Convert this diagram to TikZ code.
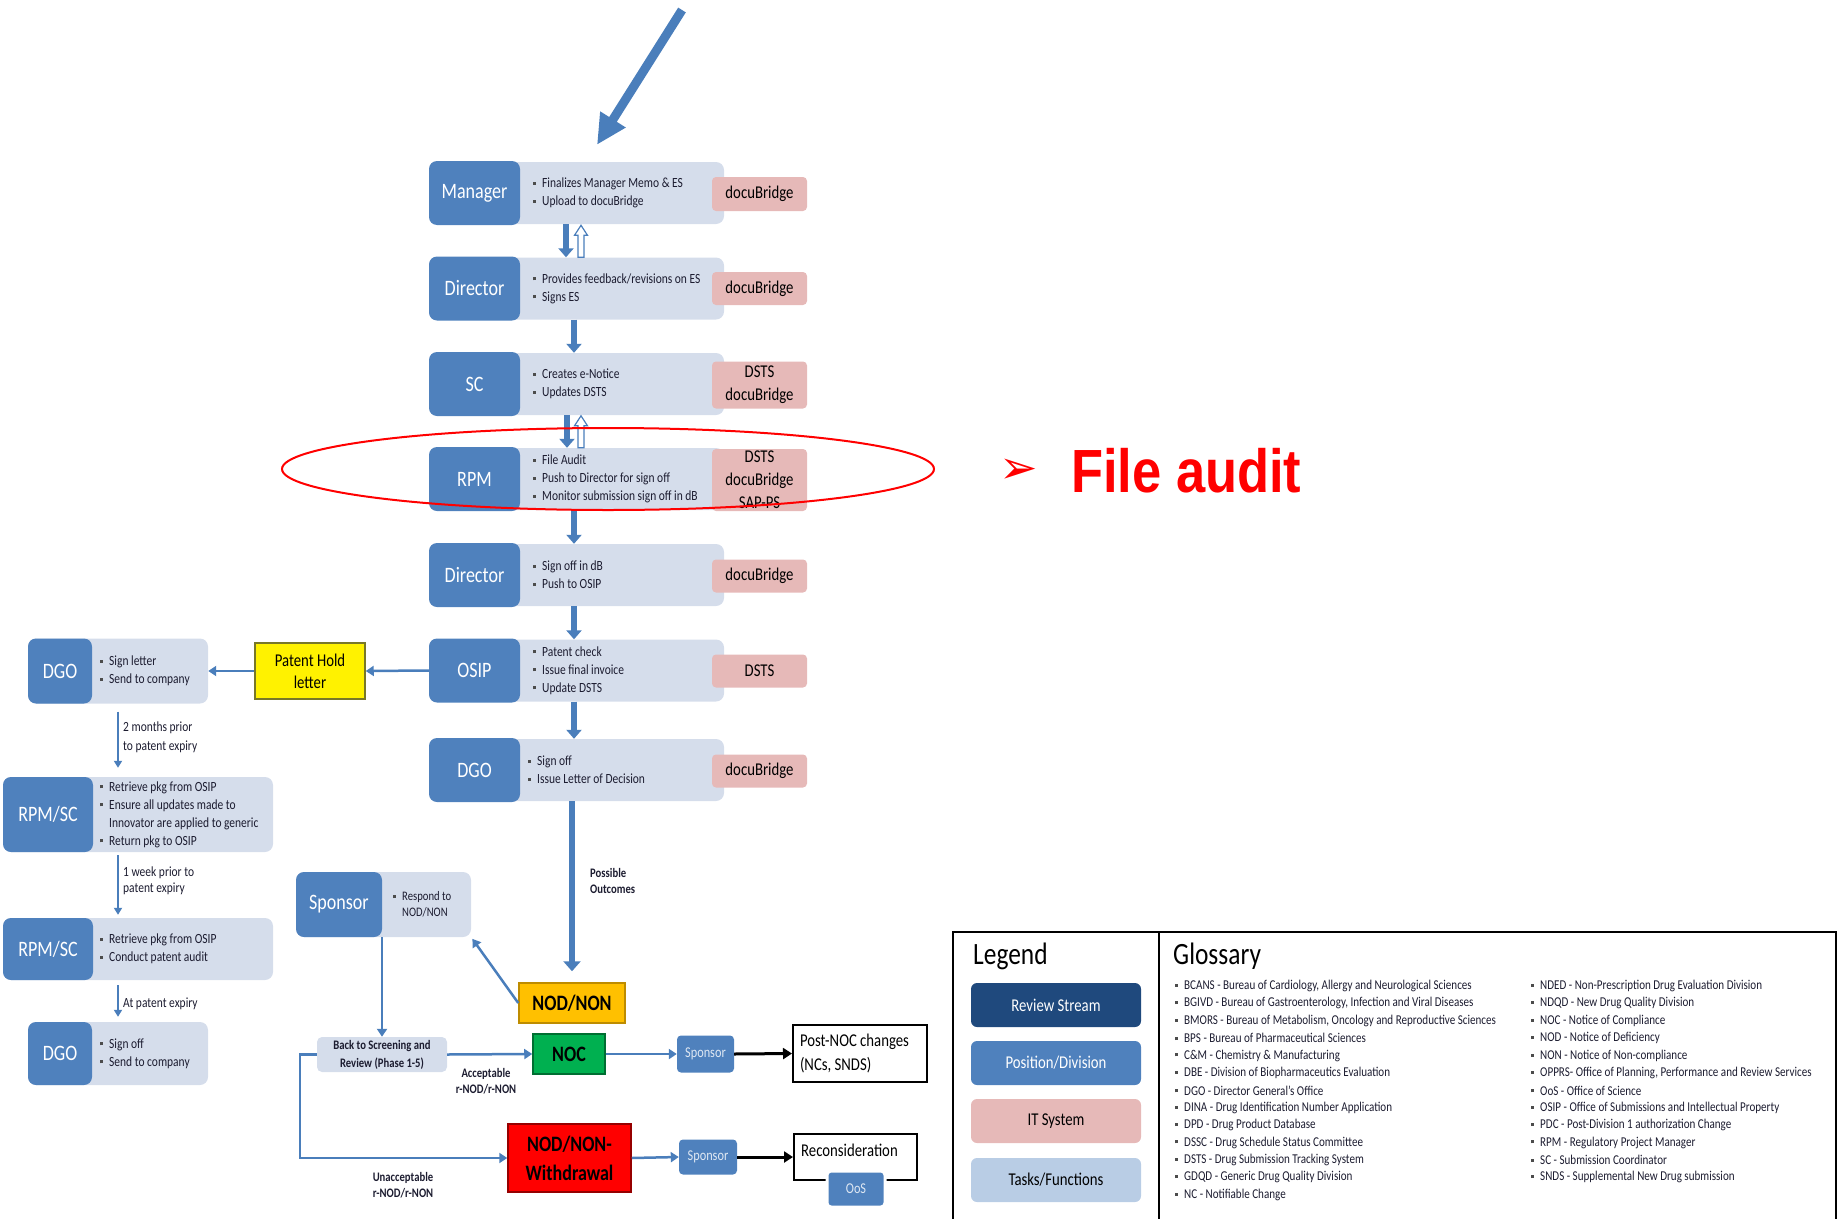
\documentclass[tikz,border=0pt]{standalone}
\usepackage{fontspec}
\setmainfont{Carlito}[FakeStretch=0.82]
\newfontfamily\auditfont{Liberation Sans}[FakeStretch=0.86]
\newfontfamily\dejafont{DejaVu Sans}
\usetikzlibrary{arrows.meta,calc}
\definecolor{hblue}{RGB}{79,129,189}
\definecolor{lblue}{RGB}{213,221,235}
\definecolor{pinkc}{RGB}{230,185,184}
\definecolor{navyc}{RGB}{31,73,125}
\definecolor{taskc}{RGB}{185,205,229}
\definecolor{btxt}{RGB}{28,28,48}
\definecolor{arrblue}{RGB}{74,126,187}
\definecolor{goldc}{RGB}{255,192,0}
\definecolor{goldd}{RGB}{190,140,0}
\definecolor{nocg}{RGB}{0,176,80}
\definecolor{nocd}{RGB}{0,110,50}
\definecolor{wdr}{RGB}{255,0,0}
\definecolor{wdd}{RGB}{150,0,0}
\definecolor{yelb}{RGB}{120,120,40}
\newcommand\setfs[2]{\fontsize{#1}{#2}\selectfont}
\newcommand\bul{\makebox[9pt][l]{\textcolor{black!70}{\rule[0.2em]{0.22em}{0.22em}}}}
\begin{document}
\begin{tikzpicture}[x=1pt,y=-1pt,
  body/.style={fill=lblue, rounded corners=8, inner sep=0},
  head/.style={fill=hblue, rounded corners=8, inner sep=0, text=white, font=\setfs{22}{26}},
  pinkb/.style={fill=pinkc, rounded corners=4, inner sep=0, minimum width=95, align=center, text=black, font=\setfs{18}{23}},
  bl/.style={anchor=west, align=left, inner sep=0, text=btxt, font=\setfs{14}{18}},
  blk/.style={arrblue, line width=6pt, -{Triangle[width=15pt,length=9pt]}},
  thinarr/.style={arrblue, line width=2.5pt, -{Triangle[width=10pt,length=8pt]}},
  lftarr/.style={arrblue, line width=2pt, -{Triangle[width=8pt,length=7pt]}},
  blackarr/.style={black, line width=3pt, -{Triangle[width=11pt,length=9pt]}},
  lab/.style={anchor=west, inner sep=0, align=left, text=btxt, font=\setfs{14}{17}},
  boldlab/.style={inner sep=0, align=center, text=btxt, font=\bfseries\setfs{13}{16}},
  outc/.style={inner sep=0, align=center, text=black, font=\bfseries\setfs{22}{29}, line width=1.5pt},
  smallsp/.style={fill=hblue, rounded corners=4, inner sep=0, text=white!82!hblue, font=\setfs{15}{18}},
  legbox/.style={rounded corners=6, inner sep=0, minimum width=170, minimum height=44, font=\setfs{18}{22}},
  gl/.style={anchor=west, inner sep=0, text=btxt, font=\setfs{13.5}{16}}
]
\useasboundingbox (0,0) rectangle (1839,1218);

% ---------- main column ----------
\node[body, minimum width=295, minimum height=62] (r1) at (576.5,193) {};
\node[head, minimum width=91, minimum height=64] (r1h) at (474.5,193) {Manager};
\node[pinkb, minimum height=34] (r1p) at (759.5,194) {docuBridge};
\node[bl] (r1t) at (533,193) {\bul Finalizes Manager Memo \& ES\\\bul Upload to docuBridge};

\node[body, minimum width=295, minimum height=62] (r2) at (576.5,288.5) {};
\node[head, minimum width=91, minimum height=64] (r2h) at (474.5,288.5) {Director};
\node[pinkb, minimum height=33] (r2p) at (759.5,288.5) {docuBridge};
\node[bl] (r2t) at (533,288.5) {\bul Provides feedback/revisions on ES\\\bul Signs ES};

\node[body, minimum width=295, minimum height=62] (r3) at (576.5,384) {};
\node[head, minimum width=91, minimum height=64] (r3h) at (474.5,384) {SC};
\node[pinkb, minimum height=47] (r3p) at (759.5,385) {DSTS\\docuBridge};
\node[bl] (r3t) at (533,384) {\bul Creates e-Notice\\\bul Updates DSTS};

\node[body, minimum width=295, minimum height=62] (r4) at (576.5,479) {};
\node[head, minimum width=91, minimum height=64] (r4h) at (474.5,479) {RPM};
\node[pinkb, minimum height=62] (r4p) at (759.5,480) {DSTS\\docuBridge\\SAP-PS};
\node[bl] (r4t) at (533,479) {\bul File Audit\\\bul Push to Director for sign off\\\bul Monitor submission sign off in dB};

\node[body, minimum width=295, minimum height=62] (r5) at (576.5,575) {};
\node[head, minimum width=91, minimum height=64] (r5h) at (474.5,575) {Director};
\node[pinkb, minimum height=33] (r5p) at (759.5,576) {docuBridge};
\node[bl] (r5t) at (533,575) {\bul Sign off in dB\\\bul Push to OSIP};

\node[body, minimum width=295, minimum height=62] (r6) at (576.5,670.5) {};
\node[head, minimum width=91, minimum height=64] (r6h) at (474.5,670.5) {OSIP};
\node[pinkb, minimum height=33] (r6p) at (759.5,671) {DSTS};
\node[bl] (r6t) at (533,670.5) {\bul Patent check\\\bul Issue final invoice\\\bul Update DSTS};

\node[body, minimum width=295, minimum height=62] (r7) at (576.5,770) {};
\node[head, minimum width=91, minimum height=64] (r7h) at (474.5,770) {DGO};
\node[pinkb, minimum height=33] (r7p) at (759.5,771) {docuBridge};
\node[bl] (r7t) at (528,770) {\bul Sign off\\\bul Issue Letter of Decision};

% top arrow
\coordinate (tstart) at (682,10);
\draw[arrblue, line width=9pt, -{Triangle[width=28pt,length=30pt]}] (tstart) -- ($(r1.north)+(20.5,-17)$);

% block arrows between rows
\draw[blk] ($(r1.south)+(-10.5,0)$) -- ($(r2.north)+(-10.5,0)$);
\draw[arrblue, fill=white, line width=1.2pt] ($(r2.north)+(4.5,0)$) ++(-3,0) -- ++(0,-22) -- ++(-3.5,0) -- ++(6.5,-10) -- ++(6.5,10) -- ++(-3.5,0) -- ++(0,22) -- cycle;
\draw[blk] ($(r2.south)+(-2.5,0)$) -- ($(r3.north)+(-2.5,0)$);
\draw[blk] ($(r3.south)+(-9.5,0)$) -- ($(r4.north)+(-9.5,0)$);
\draw[arrblue, fill=white, line width=1.2pt] ($(r4.north)+(4.5,0)$) ++(-3,0) -- ++(0,-22) -- ++(-3.5,0) -- ++(6.5,-10) -- ++(6.5,10) -- ++(-3.5,0) -- ++(0,22) -- cycle;
\draw[blk] ($(r4.south)+(-2.5,0)$) -- ($(r5.north)+(-2.5,0)$);
\draw[blk] ($(r5.south)+(-2.5,0)$) -- ($(r6.north)+(-2.5,0)$);
\draw[blk] ($(r6.south)+(-2.5,0)$) -- ($(r7.north)+(-2.5,0)$);

% ---------- left column ----------
\node[fill=yellow, draw=yelb, line width=1.5pt, minimum width=110, minimum height=56, inner sep=0, align=center, font=\setfs{18}{22}] (pat) at (310,671) {Patent Hold\\letter};

\node[body, minimum width=180, minimum height=65] (l1) at (118,671) {};
\node[head, minimum width=64, minimum height=65] (l1h) at (60,671) {DGO};
\node[bl] (l1t) at (100,671) {\bul Sign letter\\\bul Send to company};

\node[body, minimum width=270, minimum height=75] (l2) at (138,814.5) {};
\node[head, minimum width=90, minimum height=75] (l2h) at (48,814.5) {RPM/SC};
\node[bl] (l2t) at (100,814.5) {\bul Retrieve pkg from OSIP\\\bul Ensure all updates made to\\\hspace*{9pt}Innovator are applied to generic\\\bul Return pkg to OSIP};

\node[body, minimum width=270, minimum height=62] (l3) at (138,949) {};
\node[head, minimum width=90, minimum height=62] (l3h) at (48,949) {RPM/SC};
\node[bl] (l3t) at (100,949) {\bul Retrieve pkg from OSIP\\\bul Conduct patent audit};

\node[body, minimum width=180, minimum height=63] (l4) at (118,1053.5) {};
\node[head, minimum width=64, minimum height=63] (l4h) at (60,1053.5) {DGO};
\node[bl] (l4t) at (100,1053.5) {\bul Sign off\\\bul Send to company};

\draw[thinarr] (r6h.west) -- (pat.east);
\draw[thinarr] (pat.west) -- (l1.east);
\draw[lftarr, shorten <=8pt, shorten >=9pt] (l1.south) -- (l1.south |- l2.north);
\draw[lftarr, shorten <=3pt, shorten >=3pt] (l1.south |- l2.south) -- (l1.south |- l3.north);
\draw[lftarr, shorten <=5pt, shorten >=5pt] (l1.south |- l3.south) -- (l1.south |- l4.north);
\node[lab, font=\setfs{14}{19}] (t1) at (123,737.5) {2 months prior\\to patent expiry};
\node[lab, font=\setfs{14}{16}] (t2) at (123,881) {1 week prior to\\patent expiry};
\node[lab] (t3) at (123,1004) {At patent expiry};

% ---------- outcomes ----------
\node[body, minimum width=175, minimum height=65] (spL) at (383.5,904.5) {};
\node[head, minimum width=86, minimum height=65] (spH) at (339,904.5) {Sponsor};
\node[bl, font=\setfs{13}{16}] (spT) at (393,904.5) {\bul Respond to\\\hspace*{9pt}NOD/NON};

\node[outc, fill=goldc, draw=goldd, minimum width=106, minimum height=40] (nod) at (572,1003) {NOD/NON};
\node[outc, fill=nocg, draw=nocd, minimum width=72, minimum height=40] (noc) at (569,1054) {NOC};
\node[outc, fill=wdr, draw=wdd, minimum width=123, minimum height=68] (wd) at (569.5,1158) {NOD/NON-\\Withdrawal};
\node[fill=lblue, rounded corners=5, inner sep=0, minimum width=130, minimum height=35, align=center, text=btxt, font=\bfseries\setfs{13}{18}] (back) at (382,1054.5) {Back to Screening and\\Review (Phase 1-5)};

\node[smallsp, minimum width=57, minimum height=37] (spA) at (705.5,1054) {Sponsor};
\node[smallsp, minimum width=58, minimum height=35] (spB) at (708,1157) {Sponsor};
\node[draw=black, line width=2pt, minimum height=57, text width=120, inner xsep=7, inner ysep=0, align=flush left, font=\setfs{18}{24}] (post) at (860,1053.5) {Post-NOC changes\\(NCs, SNDS)};
\node[draw=black, line width=2pt, minimum width=123, minimum height=46, inner sep=0] (recon) at (855.5,1157) {};
\node[anchor=west, inner sep=0, font=\setfs{18}{22}] (recont) at ($(recon.west)+(8,-7)$) {Reconsideration};
\node[smallsp, draw=white, line width=3pt, minimum width=58, minimum height=36] (oos) at (856,1189) {OoS};

\draw[blk, -{Triangle[width=17pt,length=10pt]}, shorten >=11pt] (nod.north |- r7.south) -- (nod.north);
\node[lab, font=\bfseries\setfs{13}{16}] (po) at (590,881) {Possible\\Outcomes};
\draw[thinarr, shorten >=2pt] (nod.west) -- (spL.south east);
\draw[thinarr] (back.north |- spL.south) -- (back.north);
\draw[thinarr] (back.east) -- (noc.west);
\draw[thinarr] (noc.east) -- (spA.west);
\draw[thinarr] (back.west) -- ++(-17,0) |- (wd.west);
\draw[thinarr] (wd.east) -- (spB.west);
\draw[blackarr] (spA.east) -- (post.west);
\draw[blackarr] (spB.east) -- (recon.west);
\node[boldlab] (acc) at (486,1081) {Acceptable\\r-NOD/r-NON};
\node[boldlab] (unacc) at (403,1185) {Unacceptable\\r-NOD/r-NON};

% ---------- file audit highlight ----------
\draw[red, line width=2pt] (608,469) ellipse [x radius=326pt, y radius=41pt];
\node[inner sep=0, text=red, font=\dejafont\setfs{46}{50}] (faarr) at (1019,471) {➢};
\node[anchor=west, inner sep=0, text=red, font=\auditfont\bfseries\setfs{61}{70}] (fa) at (1071,471) {File audit};

% ---------- legend / glossary ----------
\draw[black, line width=2pt] (953,932) rectangle (1836,1240);
\draw[black, line width=2pt] (1159,932) -- (1159,1240);
\node[anchor=west, inner sep=0, font=\setfs{31}{36}] (legt) at (973,956) {Legend};
\node[anchor=west, inner sep=0, font=\setfs{31}{36}] (glot) at (1173,956) {Glossary};
\node[legbox, fill=navyc, text=white] (lg1) at (1056,1005) {Review Stream};
\node[legbox, fill=hblue, text=white] (lg2) at (1056,1063) {Position/Division};
\node[legbox, fill=pinkc, text=black] (lg3) at (1056,1121) {IT System};
\node[legbox, fill=taskc, text=black] (lg4) at (1056,1180) {Tasks/Functions};

\foreach \t [count=\i] in {
  {BCANS - Bureau of Cardiology, Allergy and Neurological Sciences},
  {BGIVD - Bureau of Gastroenterology, Infection and Viral Diseases},
  {BMORS - Bureau of Metabolism, Oncology and Reproductive Sciences},
  {BPS - Bureau of Pharmaceutical Sciences},
  {C\&M - Chemistry \& Manufacturing},
  {DBE - Division of Biopharmaceutics Evaluation},
  {DGO - Director General's Office},
  {DINA - Drug Identification Number Application},
  {DPD - Drug Product Database},
  {DSSC - Drug Schedule Status Committee},
  {DSTS - Drug Submission Tracking System},
  {GDQD - Generic Drug Quality Division},
  {NC - Notifiable Change}}
  \node[gl] (ga\i) at (1175,{986+17.4*(\i-1)}) {\bul \t};

\foreach \t [count=\i] in {
  {NDED - Non-Prescription Drug Evaluation Division},
  {NDQD - New Drug Quality Division},
  {NOC - Notice of Compliance},
  {NOD - Notice of Deficiency},
  {NON - Notice of Non-compliance},
  {OPPRS- Office of Planning, Performance and Review Services},
  {OoS - Office of Science},
  {OSIP - Office of Submissions and Intellectual Property},
  {PDC - Post-Division 1 authorization Change},
  {RPM - Regulatory Project Manager},
  {SC - Submission Coordinator},
  {SNDS - Supplemental New Drug submission}}
  \node[gl] (gb\i) at (1531,{986+17.4*(\i-1)}) {\bul \t};
\end{tikzpicture}
\end{document}
